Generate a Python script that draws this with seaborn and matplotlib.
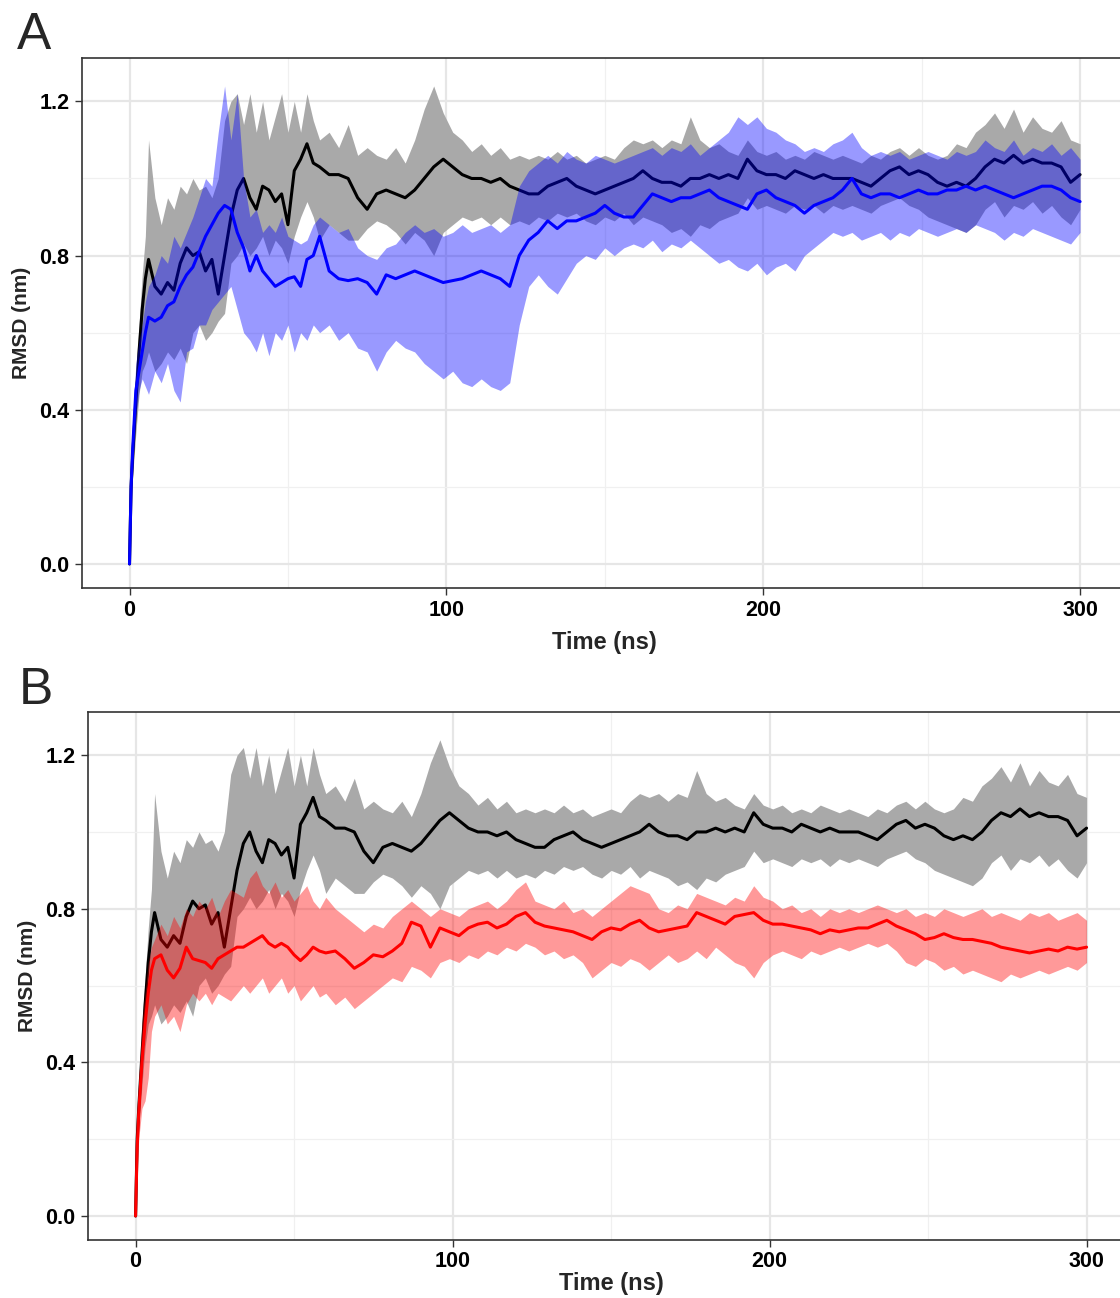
import numpy as np
import pandas as pd
import seaborn as sns
import matplotlib.pyplot as plt
from matplotlib.ticker import MultipleLocator

sns.set_style('white')
plt.rcParams['font.family'] = ['Liberation Sans', 'DejaVu Sans']

# sampling grid (ns): finer at the start, then every 2 ns and every 3 ns
time = np.concatenate([[0, 0.5, 1, 2, 3, 4, 5, 6, 8],
                       np.arange(10, 61, 2), np.arange(63, 301, 3)])

# reference system (black line, grey band) - same in both panels
ref_mean = [0.00, 0.20, 0.28, 0.42, 0.55, 0.66, 0.74, 0.79, 0.72,
            0.70, 0.73, 0.71, 0.78, 0.82, 0.80, 0.81, 0.76, 0.79, 0.70, 0.80, 0.90, 0.97,
            1.00, 0.95, 0.92, 0.98, 0.97, 0.94, 0.96, 0.88, 1.02, 1.05, 1.09, 1.04, 1.03,
            1.01, 1.01, 1.00, 0.95, 0.92, 0.96, 0.97, 0.96, 0.95, 0.97, 1.00, 1.03, 1.05,
            1.03, 1.01, 1.00, 1.00, 0.99, 1.00, 0.98, 0.97, 0.96, 0.96, 0.98, 0.99, 1.00,
            0.98, 0.97, 0.96, 0.97, 0.98, 0.99, 1.00, 1.02, 1.00, 0.99, 0.99, 0.98, 1.00,
            1.00, 1.01, 1.00, 1.01, 1.00, 1.05, 1.02, 1.01, 1.01, 1.00, 1.02, 1.01, 1.00,
            1.01, 1.00, 1.00, 1.00, 0.99, 0.98, 1.00, 1.02, 1.03, 1.01, 1.02, 1.01, 0.99,
            0.98, 0.99, 0.98, 1.00, 1.03, 1.05, 1.04, 1.06, 1.04, 1.05, 1.04, 1.04, 1.03,
            0.99, 1.01]
ref_hi = [0.00, 0.24, 0.33, 0.50, 0.62, 0.75, 0.85, 1.10, 0.95,
          0.88, 0.95, 0.92, 0.98, 0.96, 1.00, 0.97, 0.98, 0.95, 1.00, 1.15, 1.20, 1.22,
          1.14, 1.22, 1.12, 1.20, 1.10, 1.16, 1.22, 1.12, 1.20, 1.12, 1.22, 1.15, 1.10,
          1.12, 1.08, 1.14, 1.06, 1.08, 1.06, 1.05, 1.08, 1.04, 1.10, 1.18, 1.24, 1.17,
          1.12, 1.10, 1.07, 1.09, 1.06, 1.08, 1.05, 1.06, 1.05, 1.06, 1.05, 1.07, 1.05,
          1.06, 1.04, 1.05, 1.06, 1.05, 1.08, 1.10, 1.09, 1.10, 1.08, 1.10, 1.09, 1.16,
          1.10, 1.08, 1.09, 1.07, 1.06, 1.10, 1.07, 1.06, 1.07, 1.05, 1.06, 1.05, 1.07,
          1.06, 1.05, 1.06, 1.05, 1.04, 1.06, 1.05, 1.07, 1.08, 1.06, 1.08, 1.06, 1.05,
          1.06, 1.09, 1.08, 1.12, 1.14, 1.17, 1.13, 1.18, 1.12, 1.16, 1.13, 1.12, 1.15,
          1.10, 1.09]
ref_lo = [0.00, 0.17, 0.23, 0.34, 0.44, 0.50, 0.52, 0.55, 0.50,
          0.52, 0.55, 0.53, 0.56, 0.52, 0.60, 0.62, 0.58, 0.60, 0.63, 0.65, 0.78, 0.80,
          0.83, 0.80, 0.82, 0.85, 0.80, 0.84, 0.82, 0.78, 0.85, 0.90, 0.94, 0.90, 0.84,
          0.88, 0.86, 0.84, 0.84, 0.87, 0.89, 0.88, 0.86, 0.83, 0.86, 0.84, 0.80, 0.86,
          0.88, 0.90, 0.89, 0.90, 0.88, 0.90, 0.88, 0.89, 0.88, 0.90, 0.89, 0.91, 0.90,
          0.91, 0.89, 0.88, 0.90, 0.89, 0.91, 0.88, 0.90, 0.89, 0.88, 0.86, 0.87, 0.85,
          0.88, 0.87, 0.89, 0.90, 0.91, 0.95, 0.92, 0.93, 0.92, 0.91, 0.93, 0.92, 0.93,
          0.91, 0.93, 0.92, 0.93, 0.92, 0.91, 0.93, 0.94, 0.95, 0.93, 0.92, 0.90, 0.89,
          0.88, 0.87, 0.86, 0.88, 0.92, 0.94, 0.90, 0.93, 0.92, 0.94, 0.91, 0.93, 0.90,
          0.88, 0.92]

# panel A system (blue)
blue_mean = [0.00, 0.20, 0.30, 0.45, 0.50, 0.55, 0.60, 0.64, 0.63,
             0.64, 0.67, 0.68, 0.72, 0.75, 0.77, 0.81, 0.85, 0.88, 0.91, 0.93, 0.92, 0.86,
             0.82, 0.76, 0.80, 0.76, 0.74, 0.72, 0.73, 0.74, 0.745, 0.72, 0.79, 0.80, 0.85,
             0.76, 0.74, 0.735, 0.74, 0.73, 0.70, 0.75, 0.74, 0.75, 0.76, 0.75, 0.74, 0.73,
             0.735, 0.74, 0.75, 0.76, 0.75, 0.74, 0.72, 0.80, 0.84, 0.86, 0.89, 0.87, 0.89,
             0.89, 0.90, 0.91, 0.93, 0.91, 0.90, 0.90, 0.93, 0.96, 0.95, 0.94, 0.95, 0.95,
             0.96, 0.97, 0.95, 0.94, 0.93, 0.92, 0.96, 0.97, 0.95, 0.94, 0.93, 0.91, 0.93,
             0.94, 0.95, 0.97, 1.00, 0.96, 0.95, 0.96, 0.96, 0.95, 0.96, 0.97, 0.96, 0.96,
             0.97, 0.97, 0.98, 0.97, 0.98, 0.97, 0.96, 0.95, 0.96, 0.97, 0.98, 0.98, 0.97,
             0.95, 0.94]
blue_hi = [0.00, 0.25, 0.38, 0.52, 0.58, 0.62, 0.68, 0.72, 0.75,
           0.80, 0.78, 0.85, 0.82, 0.86, 0.90, 0.95, 1.00, 0.98, 1.12, 1.24, 1.10, 1.22,
           1.00, 0.90, 0.92, 0.86, 0.88, 0.86, 0.90, 0.85, 0.84, 0.83, 0.84, 0.88, 0.90,
           0.88, 0.86, 0.87, 0.82, 0.80, 0.79, 0.82, 0.83, 0.86, 0.88, 0.86, 0.87, 0.85,
           0.86, 0.88, 0.86, 0.87, 0.88, 0.86, 0.88, 0.98, 1.02, 1.04, 1.06, 1.04, 1.07,
           1.05, 1.04, 1.06, 1.05, 1.04, 1.05, 1.06, 1.07, 1.08, 1.06, 1.08, 1.07, 1.09,
           1.06, 1.08, 1.10, 1.12, 1.16, 1.14, 1.16, 1.13, 1.12, 1.10, 1.09, 1.07, 1.08,
           1.07, 1.09, 1.10, 1.12, 1.08, 1.06, 1.07, 1.06, 1.07, 1.05, 1.06, 1.07, 1.06,
           1.05, 1.07, 1.06, 1.07, 1.10, 1.08, 1.07, 1.10, 1.06, 1.08, 1.07, 1.09, 1.06,
           1.08, 1.05]
blue_lo = [0.00, 0.15, 0.25, 0.38, 0.45, 0.48, 0.46, 0.44, 0.50,
           0.47, 0.52, 0.45, 0.42, 0.55, 0.56, 0.62, 0.62, 0.66, 0.68, 0.70, 0.72, 0.66,
           0.60, 0.58, 0.55, 0.60, 0.54, 0.60, 0.58, 0.62, 0.55, 0.60, 0.58, 0.62, 0.60,
           0.62, 0.58, 0.60, 0.56, 0.55, 0.50, 0.55, 0.58, 0.56, 0.55, 0.52, 0.50, 0.48,
           0.50, 0.47, 0.46, 0.48, 0.46, 0.45, 0.47, 0.62, 0.72, 0.75, 0.72, 0.70, 0.74,
           0.78, 0.80, 0.79, 0.82, 0.80, 0.82, 0.83, 0.82, 0.84, 0.81, 0.83, 0.82, 0.84,
           0.82, 0.80, 0.78, 0.79, 0.77, 0.76, 0.78, 0.75, 0.77, 0.78, 0.76, 0.80, 0.82,
           0.84, 0.86, 0.85, 0.86, 0.84, 0.85, 0.86, 0.84, 0.86, 0.85, 0.87, 0.86, 0.85,
           0.86, 0.87, 0.86, 0.88, 0.87, 0.86, 0.84, 0.86, 0.85, 0.87, 0.86, 0.85, 0.84,
           0.83, 0.86]

# panel B system (red)
red_mean = [0.00, 0.18, 0.27, 0.40, 0.50, 0.58, 0.64, 0.67, 0.68,
            0.64, 0.62, 0.645, 0.70, 0.67, 0.665, 0.66, 0.645, 0.67, 0.68, 0.69, 0.70, 0.70,
            0.71, 0.72, 0.73, 0.71, 0.70, 0.71, 0.70, 0.68, 0.665, 0.68, 0.70, 0.69, 0.685,
            0.69, 0.67, 0.645, 0.66, 0.68, 0.675, 0.69, 0.71, 0.765, 0.755, 0.70, 0.75, 0.74,
            0.73, 0.75, 0.76, 0.765, 0.75, 0.76, 0.78, 0.79, 0.765, 0.755, 0.75, 0.745, 0.74,
            0.73, 0.72, 0.74, 0.75, 0.745, 0.76, 0.77, 0.75, 0.74, 0.745, 0.75, 0.755, 0.79,
            0.78, 0.77, 0.76, 0.78, 0.785, 0.79, 0.77, 0.76, 0.76, 0.755, 0.75, 0.745, 0.735,
            0.745, 0.74, 0.745, 0.75, 0.75, 0.76, 0.77, 0.755, 0.745, 0.735, 0.72, 0.725, 0.735,
            0.725, 0.72, 0.72, 0.715, 0.71, 0.70, 0.695, 0.69, 0.685, 0.69, 0.695, 0.69, 0.70,
            0.695, 0.70]
red_hi = [0.00, 0.24, 0.35, 0.50, 0.58, 0.66, 0.70, 0.72, 0.76,
          0.73, 0.78, 0.75, 0.80, 0.78, 0.82, 0.80, 0.83, 0.78, 0.82, 0.85, 0.84, 0.83,
          0.88, 0.90, 0.86, 0.84, 0.87, 0.83, 0.85, 0.82, 0.84, 0.86, 0.82, 0.80, 0.83,
          0.80, 0.78, 0.76, 0.74, 0.76, 0.75, 0.78, 0.80, 0.82, 0.80, 0.78, 0.80, 0.79,
          0.78, 0.80, 0.81, 0.82, 0.80, 0.82, 0.85, 0.87, 0.82, 0.81, 0.80, 0.82, 0.79,
          0.80, 0.78, 0.80, 0.82, 0.84, 0.86, 0.85, 0.84, 0.80, 0.79, 0.81, 0.80, 0.84,
          0.83, 0.82, 0.81, 0.83, 0.82, 0.86, 0.83, 0.82, 0.80, 0.81, 0.79, 0.80, 0.78,
          0.80, 0.79, 0.80, 0.79, 0.80, 0.81, 0.80, 0.79, 0.80, 0.78, 0.79, 0.78, 0.80,
          0.79, 0.78, 0.79, 0.80, 0.78, 0.79, 0.78, 0.77, 0.79, 0.78, 0.79, 0.77, 0.78,
          0.79, 0.77]
red_lo = [0.00, 0.12, 0.20, 0.28, 0.30, 0.36, 0.48, 0.52, 0.55,
          0.50, 0.52, 0.48, 0.55, 0.58, 0.56, 0.58, 0.55, 0.58, 0.57, 0.56, 0.58, 0.60,
          0.58, 0.60, 0.62, 0.58, 0.60, 0.62, 0.58, 0.60, 0.56, 0.58, 0.60, 0.57, 0.58,
          0.55, 0.57, 0.54, 0.56, 0.58, 0.60, 0.62, 0.61, 0.65, 0.64, 0.62, 0.66, 0.67,
          0.66, 0.68, 0.67, 0.69, 0.68, 0.70, 0.69, 0.71, 0.70, 0.68, 0.69, 0.67, 0.68,
          0.66, 0.62, 0.64, 0.66, 0.65, 0.67, 0.66, 0.64, 0.66, 0.68, 0.66, 0.67, 0.69,
          0.67, 0.70, 0.68, 0.66, 0.65, 0.62, 0.66, 0.68, 0.69, 0.68, 0.67, 0.69, 0.68,
          0.69, 0.70, 0.69, 0.70, 0.71, 0.70, 0.71, 0.69, 0.66, 0.65, 0.67, 0.66, 0.64,
          0.65, 0.63, 0.64, 0.63, 0.62, 0.61, 0.63, 0.62, 0.63, 0.64, 0.63, 0.64, 0.65,
          0.64, 0.66]

x_ticks = [0, 100, 200, 300]
y_ticks = [0.0, 0.4, 0.8, 1.2]


def style_axis(ax, tick_pad, label_pad):
    ax.set_xlim(-15, 315)
    ax.set_ylim(-0.0625, 1.3125)
    ax.set_xticks(x_ticks)
    ax.set_yticks(y_ticks)
    ax.set_yticklabels(['%.1f' % v for v in y_ticks])
    ax.xaxis.set_minor_locator(MultipleLocator(50))
    ax.yaxis.set_minor_locator(MultipleLocator(0.2))
    ax.set_axisbelow(True)
    ax.grid(which='major', color='#E6E6E6', lw=1.6)
    ax.grid(which='minor', color='#F0F0F0', lw=0.9)
    ax.tick_params(which='major', direction='out', length=5, width=1, color='#333333',
                   labelsize=15.5, labelcolor='black', pad=4, bottom=True, left=True)
    ax.tick_params(axis='x', which='major', pad=tick_pad)
    ax.tick_params(which='minor', length=0)
    for lab in ax.get_xticklabels() + ax.get_yticklabels():
        lab.set_fontweight('bold')
    for sp in ax.spines.values():
        sp.set_color('#333333')
        sp.set_linewidth(1.2)
    ax.set_xlabel('Time (ns)', fontsize=17, fontweight='bold', labelpad=label_pad)
    ax.set_ylabel('RMSD (nm)', fontsize=15, fontweight='bold', labelpad=6)


def draw_panel(ax, mean, lo, hi, color, band_color):
    ax.fill_between(time, ref_lo, ref_hi, color='#A9A9A9', lw=0, zorder=1)
    sns.lineplot(x=time, y=ref_mean, ax=ax, color='black', lw=2.2, zorder=2)
    ax.fill_between(time, lo, hi, color=band_color, alpha=0.4, lw=0, zorder=3)
    sns.lineplot(x=time, y=mean, ax=ax, color=color, lw=2.2, zorder=4)


fig = plt.figure(figsize=(11.2, 12.98), dpi=100)
ax_a = fig.add_axes([0.0732, 0.547, 0.9336, 0.4083])
ax_b = fig.add_axes([0.0786, 0.0447, 0.934, 0.4068])

draw_panel(ax_a, blue_mean, blue_lo, blue_hi, '#0000FF', '#0000FF')
draw_panel(ax_b, red_mean, red_lo, red_hi, '#FF0000', '#FF0000')
style_axis(ax_a, 4, 7)
style_axis(ax_b, 3, 0)

fig.text(0.015, 0.962, 'A', fontsize=37, ha='left', va='baseline')
fig.text(0.017, 0.458, 'B', fontsize=37, ha='left', va='baseline')

fig.savefig('out.png', dpi=100)
